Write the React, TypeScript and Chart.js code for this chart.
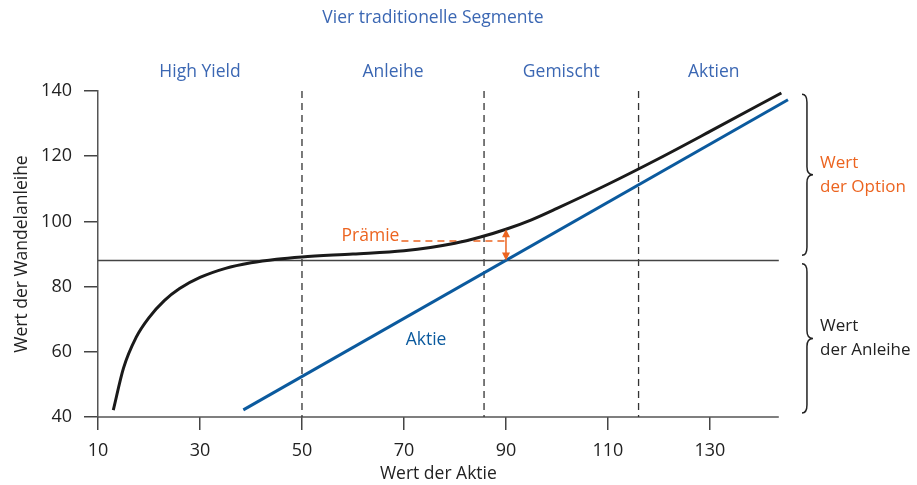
import React, { useEffect, useRef } from "react";
import { Chart, registerables } from "chart.js";

Chart.register(...registerables);

// ---- data ----
const stockPrice = [13, 15, 17.5, 20, 23, 26, 30, 35, 40, 45, 50, 60, 70, 80, 85, 90, 95, 100, 110, 120, 130, 144];
const convertibleValue = [42.1, 55, 64.5, 70.5, 75.7, 79.4, 82.8, 85.6, 87.3, 88.4, 89.1, 90.0, 91.0, 93.3, 95.2, 97.6, 100.5, 104, 111.4, 119.3, 127.6, 139.4];
const stockLineX = [38.5, 145.3];
const stockLineY = [42.2, 137.3];
const bondFloorX = [10, 143.5];
const bondFloorY = [88, 88];
const segmentBounds = [50, 85.7, 116];
const segmentLabels = ["High Yield", "Anleihe", "Gemischt", "Aktien"];
const xTickValues = [10, 30, 50, 70, 90, 110, 130];
const yTickValues = [40, 60, 80, 100, 120, 140];
const premiumX = 90;
const premiumTop = 97.6;
const premiumBottom = 88;
const premiumDashY = 94;
const premiumDashStart = 69.5;
const braceOption = [139, 89.6];
const braceBond = [87, 41.2];

const X_MIN = 10;
const X_MAX = 145.5;
const Y_MIN = 40;
const Y_MAX = 140;

const FONT = '"Open Sans", sans-serif';
const BLUE_TEXT = "#3b67b3";
const ORANGE = "#ec6420";
const LINE_BLUE = "#0b5a9e";

function drawBrace(ctx: CanvasRenderingContext2D, x: number, y1: number, y2: number, w: number) {
  const ym = (y1 + y2) / 2;
  const r = 8;
  const xm = x + w * 0.45;
  ctx.beginPath();
  ctx.moveTo(x, y1);
  ctx.quadraticCurveTo(xm, y1, xm, y1 + r);
  ctx.lineTo(xm, ym - r);
  ctx.quadraticCurveTo(xm, ym, x + w, ym);
  ctx.quadraticCurveTo(xm, ym, xm, ym + r);
  ctx.lineTo(xm, y2 - r);
  ctx.quadraticCurveTo(xm, y2, x, y2);
  ctx.stroke();
}

const annotations = {
  id: "annotations",
  beforeDatasetsDraw(chart: any) {
    const { ctx, chartArea, scales } = chart;
    const xs = scales.x;
    const ys = scales.y;
    ctx.save();
    // x axis line (ends before the right edge)
    ctx.strokeStyle = "#555";
    ctx.lineWidth = 1.5;
    ctx.beginPath();
    ctx.moveTo(chartArea.left, ys.getPixelForValue(Y_MIN));
    ctx.lineTo(xs.getPixelForValue(bondFloorX[1]), ys.getPixelForValue(Y_MIN));
    ctx.stroke();
    // segment dashed lines
    ctx.strokeStyle = "#333";
    ctx.lineWidth = 1.3;
    ctx.setLineDash([7, 5]);
    segmentBounds.forEach((v) => {
      const px = xs.getPixelForValue(v);
      ctx.beginPath();
      ctx.moveTo(px, chartArea.top);
      ctx.lineTo(px, chartArea.bottom);
      ctx.stroke();
    });
    // premium dashed line
    ctx.strokeStyle = ORANGE;
    ctx.lineWidth = 1.5;
    ctx.setLineDash([7, 5]);
    ctx.beginPath();
    ctx.moveTo(xs.getPixelForValue(premiumDashStart), ys.getPixelForValue(premiumDashY));
    ctx.lineTo(xs.getPixelForValue(premiumX), ys.getPixelForValue(premiumDashY));
    ctx.stroke();
    ctx.setLineDash([]);
    ctx.restore();
  },
  afterDatasetsDraw(chart: any) {
    const { ctx, chartArea, scales } = chart;
    const xs = scales.x;
    const ys = scales.y;
    ctx.save();
    // premium arrow
    const ax = xs.getPixelForValue(premiumX);
    const at = ys.getPixelForValue(premiumTop);
    const ab = ys.getPixelForValue(premiumBottom);
    ctx.strokeStyle = ORANGE;
    ctx.fillStyle = ORANGE;
    ctx.lineWidth = 1.5;
    ctx.beginPath();
    ctx.moveTo(ax, at + 6);
    ctx.lineTo(ax, ab - 6);
    ctx.stroke();
    ctx.beginPath();
    ctx.moveTo(ax, at);
    ctx.lineTo(ax - 4, at + 8);
    ctx.lineTo(ax + 4, at + 8);
    ctx.closePath();
    ctx.fill();
    ctx.beginPath();
    ctx.moveTo(ax, ab);
    ctx.lineTo(ax - 4, ab - 8);
    ctx.lineTo(ax + 4, ab - 8);
    ctx.closePath();
    ctx.fill();

    // texts
    ctx.textBaseline = "middle";
    ctx.font = `17.5px ${FONT}`;
    ctx.fillStyle = ORANGE;
    ctx.textAlign = "right";
    ctx.fillText("Prämie", xs.getPixelForValue(premiumDashStart) - 2, ys.getPixelForValue(premiumDashY) - 5);

    ctx.fillStyle = LINE_BLUE;
    ctx.textAlign = "center";
    ctx.fillText("Aktie", 426, 340);

    // title & segment labels
    ctx.fillStyle = BLUE_TEXT;
    ctx.fillText("Vier traditionelle Segmente", 433, 18);
    const bounds = [X_MIN, ...segmentBounds, X_MAX];
    segmentLabels.forEach((lab, i) => {
      const c = (xs.getPixelForValue(bounds[i]) + xs.getPixelForValue(bounds[i + 1])) / 2;
      ctx.fillText(lab, c, 72);
    });

    // axis titles
    ctx.fillStyle = "#222";
    ctx.fillText("Wert der Aktie", (chartArea.left + xs.getPixelForValue(bondFloorX[1])) / 2, 474);
    ctx.save();
    ctx.translate(22, (chartArea.top + chartArea.bottom) / 2);
    ctx.rotate(-Math.PI / 2);
    ctx.fillText("Wert der Wandelanleihe", 0, 0);
    ctx.restore();

    // braces
    ctx.strokeStyle = "#222";
    ctx.lineWidth = 1.5;
    const o1 = ys.getPixelForValue(braceOption[0]);
    const o2 = ys.getPixelForValue(braceOption[1]);
    const b1 = ys.getPixelForValue(braceBond[0]);
    const b2 = ys.getPixelForValue(braceBond[1]);
    drawBrace(ctx, 802, o1, o2, 11);
    drawBrace(ctx, 802, b1, b2, 11);
    ctx.font = `17px ${FONT}`;
    ctx.textAlign = "left";
    const om = (o1 + o2) / 2;
    const bm = (b1 + b2) / 2;
    ctx.fillStyle = ORANGE;
    ctx.fillText("Wert", 820, om - 12);
    ctx.fillText("der Option", 820, om + 12);
    ctx.fillStyle = "#222";
    ctx.fillText("Wert", 820, bm - 12);
    ctx.fillText("der Anleihe", 820, bm + 12);
    ctx.restore();
  },
};

export default function App() {
  const ref = useRef<HTMLCanvasElement>(null);
  useEffect(() => {
    if (!ref.current) return;
    const chart = new Chart(ref.current, {
      type: "line",
      data: {
        datasets: [
          {
            label: "Wandelanleihe",
            data: stockPrice.map((x, i) => ({ x, y: convertibleValue[i] })),
            borderColor: "#1a1a1a",
            borderWidth: 3,
            pointRadius: 0,
            cubicInterpolationMode: "monotone",
            fill: false,
          },
          {
            label: "Aktie",
            data: stockLineX.map((x, i) => ({ x, y: stockLineY[i] })),
            borderColor: LINE_BLUE,
            borderWidth: 3,
            pointRadius: 0,
            fill: false,
          },
          {
            label: "Anleihe",
            data: bondFloorX.map((x, i) => ({ x, y: bondFloorY[i] })),
            borderColor: "#444",
            borderWidth: 1.5,
            pointRadius: 0,
            fill: false,
          },
        ],
      },
      options: {
        animation: false,
        responsive: true,
        maintainAspectRatio: false,
        layout: { padding: { top: 91, right: 128, left: 0, bottom: 0 } },
        plugins: { legend: { display: false }, tooltip: { enabled: false } },
        scales: {
          x: {
            type: "linear",
            min: X_MIN,
            max: X_MAX,
            afterBuildTicks: (s: any) => {
              s.ticks = xTickValues.map((v) => ({ value: v }));
            },
            afterFit: (s: any) => {
              s.height = 68;
            },
            border: { display: false },
            grid: { drawOnChartArea: false, drawTicks: true, tickLength: 13, color: "#444", lineWidth: 1.5 },
            ticks: { color: "#222", font: { family: FONT, size: 18 }, padding: 10, maxRotation: 0 },
          },
          y: {
            type: "linear",
            min: Y_MIN,
            max: Y_MAX,
            afterBuildTicks: (s: any) => {
              s.ticks = yTickValues.map((v) => ({ value: v }));
            },
            afterFit: (s: any) => {
              s.width = 98;
            },
            border: { display: true, color: "#555", width: 1.5 },
            grid: { drawOnChartArea: false, drawTicks: true, tickLength: 14, color: "#444", lineWidth: 1.5 },
            ticks: { color: "#222", font: { family: FONT, size: 18 }, padding: 12 },
          },
        },
      },
      plugins: [annotations],
    });
    return () => chart.destroy();
  }, []);
  return (
    <div style={{ position: "absolute", left: 0, top: 0, width: 917, height: 485, background: "#fff" }}>
      <canvas ref={ref} />
    </div>
  );
}
